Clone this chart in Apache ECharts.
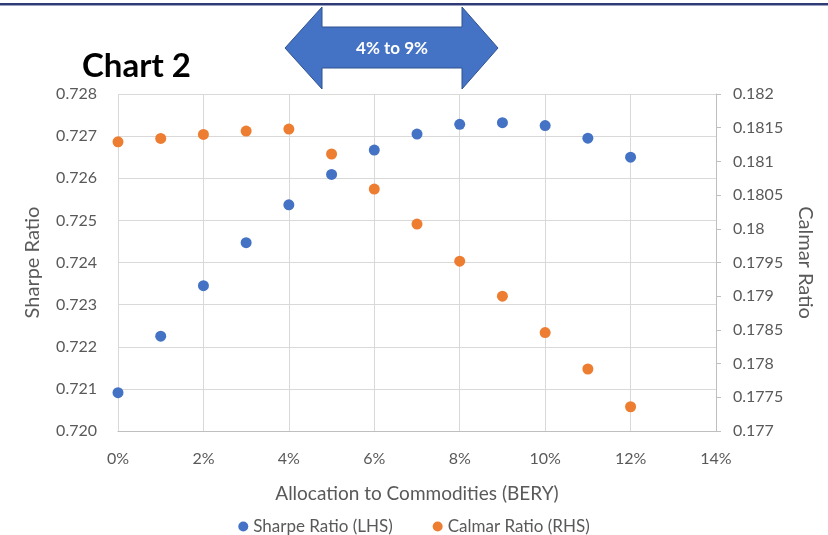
<!DOCTYPE html>
<html>
<head>
<meta charset="utf-8">
<title>Chart 2</title>
<script src="https://cdn.jsdelivr.net/npm/echarts@6/dist/echarts.min.js"></script>
<style>
  html, body { margin: 0; padding: 0; background: #ffffff; }
  #chart { width: 828px; height: 535px; }
</style>
</head>
<body>
<div id="chart"></div>
<script>
// Allocation to commodities, in percent
const allocation = [0, 1, 2, 3, 4, 5, 6, 7, 8, 9, 10, 11, 12];
// Sharpe ratio (left axis)
const sharpe = [0.72091, 0.72225, 0.72345, 0.72447, 0.72537, 0.72609, 0.72667,
                0.72705, 0.72728, 0.72732, 0.72725, 0.72695, 0.72650];
// Calmar ratio (right axis)
const calmar = [0.18129, 0.18134, 0.18140, 0.18145, 0.18148, 0.18111, 0.18059,
                0.18007, 0.17952, 0.17900, 0.17846, 0.17792, 0.17736];

// Axis ranges
const xRange = [0, 14, 2];
const leftRange = [0.720, 0.728, 0.001];
const rightRange = [0.177, 0.182, 0.0005];

const seriesNames = ['Sharpe Ratio (LHS)', 'Calmar Ratio (RHS)'];
const bandLabel = '4% to 9%';

const BLUE = '#4472C4';
const ORANGE = '#ED7D31';
const TEXT = '#595959';
const GRID = '#d9d9d9';
const FONT = 'Lato, "Open Sans", sans-serif';

const chart = echarts.init(document.getElementById('chart'), null, { renderer: 'canvas' });

const option = {
  backgroundColor: '#ffffff',
  animation: false,
  textStyle: { fontFamily: FONT },
  grid: { left: 118, right: 112, top: 94, bottom: 104, containLabel: false },
  legend: {
    top: 513,
    left: 'center',
    icon: 'circle',
    itemWidth: 10,
    itemHeight: 10,
    itemGap: 40,
    textStyle: { color: TEXT, fontSize: 17, fontFamily: FONT },
    data: seriesNames
  },
  xAxis: {
    type: 'value',
    min: xRange[0],
    max: xRange[1],
    interval: xRange[2],
    name: 'Allocation to Commodities (BERY)',
    nameLocation: 'middle',
    nameGap: 53,
    nameTextStyle: { color: TEXT, fontSize: 19, fontFamily: FONT },
    axisLine: { show: true, lineStyle: { color: '#bfbfbf', width: 1 } },
    axisTick: { show: false },
    axisLabel: { color: TEXT, fontSize: 16, margin: 20, formatter: '{value}%' },
    splitLine: { show: true, lineStyle: { color: GRID, width: 1 } }
  },
  yAxis: [
    {
      type: 'value',
      position: 'left',
      min: leftRange[0],
      max: leftRange[1],
      interval: leftRange[2],
      name: 'Sharpe Ratio',
      nameLocation: 'middle',
      nameGap: 75,
      nameTextStyle: { color: TEXT, fontSize: 20, fontFamily: FONT },
      axisLine: { show: false },
      axisTick: { show: false },
      axisLabel: { color: TEXT, fontSize: 16, margin: 21, formatter: v => v.toFixed(3) },
      splitLine: { show: true, lineStyle: { color: GRID, width: 1 } }
    },
    {
      type: 'value',
      position: 'right',
      min: rightRange[0],
      max: rightRange[1],
      interval: rightRange[2],
      name: 'Calmar Ratio',
      nameLocation: 'middle',
      nameGap: 79,
      nameRotate: -90,
      nameTextStyle: { color: TEXT, fontSize: 20, fontFamily: FONT },
      axisLine: { show: true, lineStyle: { color: '#bfbfbf', width: 1 } },
      axisTick: { show: true, inside: false, length: 5, lineStyle: { color: '#bfbfbf' } },
      axisLabel: { color: TEXT, fontSize: 16, margin: 17, formatter: v => String(+v.toFixed(4)) },
      splitLine: { show: false }
    }
  ],
  series: [
    {
      name: seriesNames[0],
      type: 'scatter',
      yAxisIndex: 0,
      symbol: 'circle',
      symbolSize: 11,
      itemStyle: { color: BLUE, opacity: 1 },
      data: allocation.map((x, i) => [x, sharpe[i]])
    },
    {
      name: seriesNames[1],
      type: 'scatter',
      yAxisIndex: 1,
      symbol: 'circle',
      symbolSize: 11,
      itemStyle: { color: ORANGE, opacity: 1 },
      data: allocation.map((x, i) => [x, calmar[i]])
    }
  ],
  graphic: [
    // page rule across the top
    { type: 'rect', shape: { x: 0, y: 3, width: 828, height: 2 }, style: { fill: '#2f3b74' }, silent: true },
    { type: 'rect', shape: { x: 0, y: 5, width: 828, height: 1 }, style: { fill: '#9aa1c2' }, silent: true },
    // heading
    {
      type: 'text', left: 82, top: 50,
      style: { text: 'Chart 2', fill: '#000000', font: 'bold 33px ' + FONT }
    },
    // double-headed arrow marking the preferred allocation band
    {
      type: 'polygon',
      shape: {
        points: [[285, 48], [322, 7], [322, 27], [462, 27], [462, 7], [498, 48],
                 [462, 89], [462, 68], [322, 68], [322, 89]]
      },
      style: { fill: BLUE, stroke: '#2F528F', lineWidth: 1 },
      z: 10
    },
    {
      type: 'text', x: 392, y: 49, z: 11,
      style: { text: bandLabel, fill: '#ffffff', font: 'bold 17px ' + FONT, align: 'center', verticalAlign: 'middle' }
    }
  ]
};

chart.setOption(option);
</script>
</body>
</html>
